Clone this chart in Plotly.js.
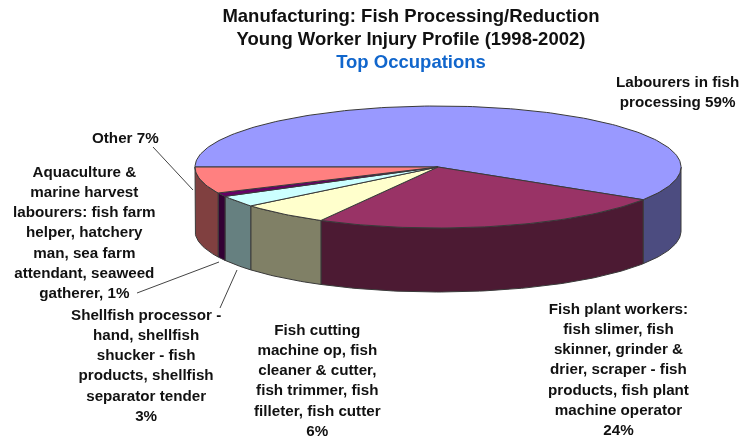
<!DOCTYPE html>
<html>
<head>
<meta charset="utf-8">
<script src="https://cdn.plot.ly/plotly-3.0.1.min.js"></script>
<style>html,body{margin:0;padding:0;background:#fff}#chart{width:740px;height:438px;filter:blur(0.5px)}</style>
</head>
<body>
<div id="chart"></div>
<script>
// Data
const categories = ["Labourers in fish processing","Fish plant workers","Fish cutting machine op","Shellfish processor","Aquaculture & marine harvest labourers","Other"];
const values = [59,24,6,3,1,7];
const topColors = ["#9999FF","#993366","#FFFFCC","#CCFFFF","#660066","#FF8080"];
const sideColors = ["#4C4C80","#4C1A33","#808066","#668080","#330033","#804040"];
const labelLines = [
 ["Labourers in fish","processing 59%"],
 ["Fish plant workers:","fish slimer, fish","skinner, grinder &","drier, scraper - fish","products, fish plant","machine operator","24%"],
 ["Fish cutting","machine op, fish","cleaner & cutter,","fish trimmer, fish","filleter, fish cutter","6%"],
 ["Shellfish processor -","hand, shellfish","shucker - fish","products, shellfish","separator tender","3%"],
 ["Aquaculture &","marine harvest","labourers: fish farm","helper, hatchery","man, sea farm","attendant, seaweed","gatherer, 1%"],
 ["Other 7%"]
];
const labelCentersX = [677,618,317,145.5,84,125];
const labelCentersY = [91.5,369,380,365,232,137];
const leaderX = [[153,193],[137,219],[220,237]];
const leaderY = [[147,190],[293,262],[308,270]];
const titleLines = ["Manufacturing: Fish Processing/Reduction","Young Worker Injury Profile (1998-2002)"];
const titleSub = "Top Occupations";

// Pie geometry
const cx=438, cy=167, rx=243, ry=61, depth=64, outline="#3a3a3a";
const total = values.reduce((a,b)=>a+b,0);
function px(t){const a=Math.PI-t;return cx+rx*Math.cos(a);}
function py(t){const a=Math.PI-t;return cy-ry*Math.sin(a);}
function arc(t0,t1){const n=Math.max(2,Math.ceil(Math.abs(t1-t0)/0.02));const o=[];for(let i=0;i<=n;i++)o.push(t0+(t1-t0)*i/n);return o;}

const traces=[];
let start=0;
const angles=values.map(v=>{const s=start;start+=v/total*2*Math.PI;return [s,start];});

// Side walls (front half only)
angles.forEach(([s,e],i)=>{
  const a=Math.max(s,Math.PI);
  if(e<=a)return;
  const ts=arc(a,e);
  const x=ts.map(px).concat(ts.slice().reverse().map(px));
  const y=ts.map(py).concat(ts.slice().reverse().map(t=>py(t)+depth));
  x.push(x[0]);y.push(y[0]);
  traces.push({type:"scatter",mode:"lines",x,y,fill:"toself",fillcolor:sideColors[i],line:{color:outline,width:1},name:categories[i],hoverinfo:"skip",showlegend:false});
});
// Top faces
angles.forEach(([s,e],i)=>{
  const ts=arc(s,e);
  const x=[cx].concat(ts.map(px),[cx]);
  const y=[cy].concat(ts.map(py),[cy]);
  traces.push({type:"scatter",mode:"lines",x,y,fill:"toself",fillcolor:topColors[i],line:{color:outline,width:1},name:categories[i],hoverinfo:"skip",showlegend:false});
});
// Leader lines
leaderX.forEach((lx,i)=>traces.push({type:"scatter",mode:"lines",x:lx,y:leaderY[i],line:{color:"#444",width:1},hoverinfo:"skip",showlegend:false}));

const inner=(s,size,color)=>`<span style="font-size:${size}px${color?";color:"+color:""}">${s}</span>`;
const annotations=labelLines.map((lines,i)=>({
  x:labelCentersX[i],y:labelCentersY[i],xref:"x",yref:"y",xanchor:"center",yanchor:"middle",
  showarrow:false,align:"center",
  text:lines.map(l=>inner(l.replace(/&/g,"&amp;"),15.2)).join("<br>"),
  font:{family:"Liberation Sans, Arial, sans-serif",size:15.5,color:"#111",weight:"bold"}
}));

const layout={
  width:740,height:438,margin:{l:0,r:0,t:0,b:0},paper_bgcolor:"#fff",plot_bgcolor:"#fff",
  title:{text:titleLines.map(l=>inner(l,18.5)).join("<br>")+"<br>"+inner(titleSub,18.5,"#1166CC"),
    x:411/740,xanchor:"center",y:0.949,yanchor:"top",
    font:{family:"Liberation Sans, Arial, sans-serif",size:17.7,color:"#111",weight:"bold"}},
  xaxis:{range:[0,740],visible:false,fixedrange:true},
  yaxis:{range:[438,0],visible:false,fixedrange:true},
  showlegend:false,hovermode:false,annotations
};
Plotly.newPlot("chart",traces,layout,{displayModeBar:false,staticPlot:true});
</script>
</body>
</html>
